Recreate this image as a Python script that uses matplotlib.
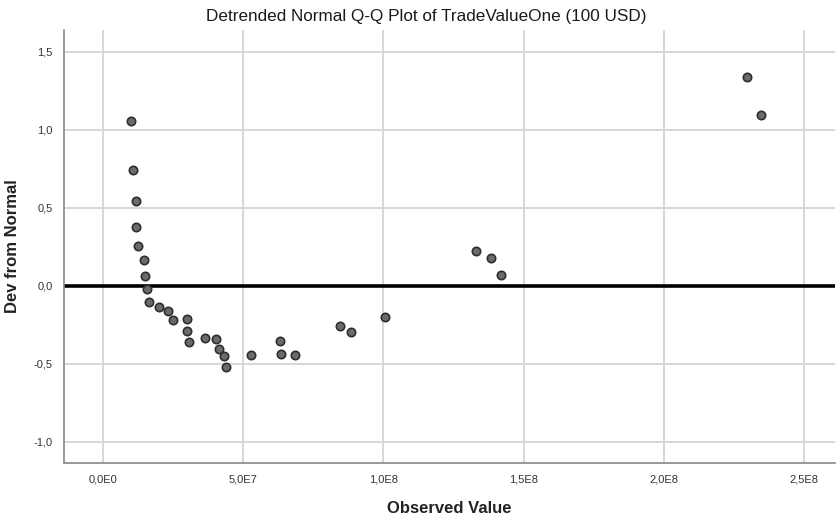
import matplotlib
matplotlib.use('Agg')
import matplotlib.pyplot as plt
from matplotlib.ticker import FuncFormatter

plt.rcParams['font.family'] = ['Liberation Sans Narrow', 'Liberation Sans', 'DejaVu Sans']

# observed values (USD) and deviation from normal
observed = [10.0e6, 10.8e6, 11.7e6, 11.7e6, 12.5e6, 14.6e6, 14.8e6, 15.8e6,
            16.3e6, 19.8e6, 23.3e6, 24.9e6, 29.8e6, 29.9e6, 30.5e6, 36.3e6,
            40.4e6, 41.3e6, 43.1e6, 43.8e6, 52.9e6, 63.2e6, 63.5e6, 68.5e6,
            84.6e6, 88.5e6, 100.7e6, 133.1e6, 138.4e6, 141.9e6,
            229.6e6, 234.6e6]
deviation = [1.06, 0.745, 0.547, 0.378, 0.256, 0.167, 0.064, -0.021,
             -0.105, -0.137, -0.162, -0.218, -0.212, -0.288, -0.357, -0.333,
             -0.342, -0.404, -0.451, -0.517, -0.442, -0.35, -0.434, -0.44,
             -0.256, -0.297, -0.197, 0.226, 0.177, 0.070,
             1.34, 1.096]

x_ticks = [0, 5e7, 1e8, 1.5e8, 2e8, 2.5e8]
y_ticks = [-1.0, -0.5, 0.0, 0.5, 1.0, 1.5]


def sci_comma(v, pos):
    if v == 0:
        return '0,0E0'
    s = '{:.1E}'.format(v)
    mant, exp = s.split('E')
    return '{}E{}'.format(mant.replace('.', ','), int(exp))


def dec_comma(v, pos):
    return '{:.1f}'.format(v).replace('.', ',')


fig = plt.figure(figsize=(8.36, 5.2), dpi=100)
ax = fig.add_axes([0.0766, 0.1096, 0.922, 0.8325])

ax.set_xlim(-13.9e6, 261e6)
ax.set_ylim(-1.135, 1.64)
ax.set_xticks(x_ticks)
ax.set_yticks(y_ticks)
ax.xaxis.set_major_formatter(FuncFormatter(sci_comma))
ax.yaxis.set_major_formatter(FuncFormatter(dec_comma))
ax.grid(True, color='#d4d4d4', linewidth=1.3)
ax.set_axisbelow(True)

ax.axhline(0, color='black', linewidth=2.6, zorder=2)
ax.scatter(observed, deviation, s=36, facecolor='#6b6b6b', edgecolor='#2e2e2e',
           linewidth=1.2, zorder=3)

for side in ['top', 'right']:
    ax.spines[side].set_visible(False)
for side in ['left', 'bottom']:
    ax.spines[side].set_color('#888888')
    ax.spines[side].set_linewidth(1.2)
ax.tick_params(length=0, labelsize=8, colors='#333333', pad=8)

ax.set_xlabel('Observed Value', fontsize=12, fontweight='bold', color='#222222', labelpad=12)
ax.set_ylabel('Dev from Normal', fontsize=12, fontweight='bold', color='#222222', labelpad=10)
fig.text(0.51, 0.968, 'Detrended Normal Q-Q Plot of TradeValueOne (100 USD)',
         ha='center', va='center', fontsize=12.3, color='#1a1a1a')

fig.savefig('out.png', dpi=100)
